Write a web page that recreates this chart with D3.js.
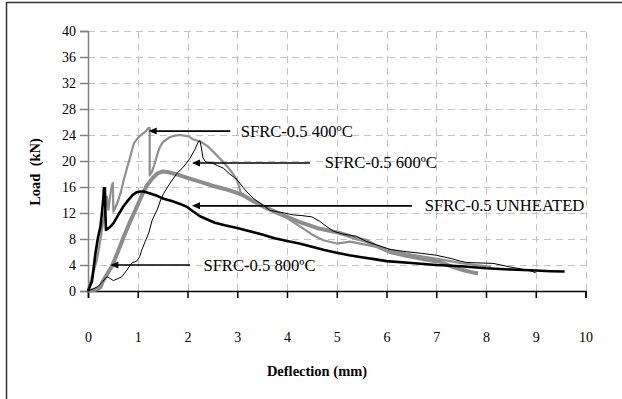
<!DOCTYPE html>
<html>
<head>
<meta charset="utf-8">
<script src="https://cdn.jsdelivr.net/npm/d3@7"></script>
<style>
  html, body { margin: 0; padding: 0; background: #fff; }
</style>
</head>
<body>
<svg id="chart" width="622" height="399"></svg>
<script>
// tick values
const xTicks = [0, 1, 2, 3, 4, 5, 6, 7, 8, 9, 10]
const yTicks = [0, 4, 8, 12, 16, 20, 24, 28, 32, 36, 40]

// [deflection (mm), load (kN)]
const unheated = [
  [0, 0], [0.08, 1.5], [0.15, 5.8], [0.2, 8.2], [0.25, 9.9], [0.28, 12], [0.31, 14.5], [0.32, 15.8],
  [0.34, 15.8], [0.35, 12], [0.36, 9.4], [0.4, 9.6], [0.45, 9.9], [0.51, 10.4], [0.6, 11.6], [0.71, 13.0],
  [0.8, 13.9], [0.9, 14.8], [0.98, 15.2], [1.05, 15.3], [1.12, 15.3], [1.25, 15.0], [1.4, 14.6],
  [1.52, 14.2], [1.7, 13.8], [1.85, 13.4], [2.0, 12.9], [2.1, 12.3], [2.25, 11.5], [2.4, 11.0],
  [2.55, 10.5], [2.75, 10.1], [3.0, 9.7], [3.25, 9.2], [3.5, 8.7], [3.75, 8.1], [4.0, 7.7], [4.25, 7.3],
  [4.5, 6.8], [4.75, 6.3], [5.0, 5.9], [5.25, 5.5], [5.5, 5.2], [5.75, 4.9], [6.0, 4.6], [6.5, 4.3],
  [7.0, 4.0], [7.5, 3.8], [8.0, 3.5], [8.5, 3.3], [9.0, 3.15], [9.3, 3.05], [9.58, 3.0]
]
const t400 = [
  [0, 0], [0.05, 1.5], [0.12, 3.2], [0.18, 4.8], [0.23, 7], [0.28, 9.4], [0.32, 11.3], [0.35, 13],
  [0.38, 14.5], [0.41, 12.5], [0.45, 14.8], [0.48, 16.3], [0.5, 16.6], [0.51, 12.2], [0.56, 13],
  [0.61, 14], [0.66, 15.2], [0.71, 16.8], [0.78, 18.8], [0.85, 20.7], [0.92, 22.7], [1.02, 23.7],
  [1.1, 24.2], [1.15, 24.5], [1.22, 25.1], [1.24, 25.1], [1.24, 17.8], [1.28, 18.3], [1.32, 19.1],
  [1.37, 20.4], [1.42, 21.7], [1.47, 22.5], [1.52, 23.0], [1.65, 23.7], [1.75, 23.9], [1.85, 24.0],
  [2.02, 23.8], [2.12, 23.3], [2.26, 23.0], [2.4, 22.3], [2.52, 21.4], [2.7, 20], [2.86, 18.6],
  [2.98, 17.3], [3.04, 16.0], [3.07, 15.0], [3.3, 14.0], [3.6, 12.9], [3.9, 11.8], [4.06, 10.9],
  [4.33, 9.6], [4.5, 8.7], [4.73, 7.8], [5.0, 7.3], [5.27, 7.6], [5.6, 7.1], [5.94, 6.6], [6.2, 6.1],
  [6.5, 5.6], [6.8, 5.2], [7.14, 4.8], [7.5, 4.3], [7.8, 4.0], [8.1, 3.7]
]
const t600 = [
  [0, 0], [0.1, 0.3], [0.2, 0.7], [0.3, 1.5], [0.38, 2.2], [0.45, 1.9], [0.51, 1.6], [0.6, 1.9],
  [0.68, 2.2], [0.78, 3.2], [0.88, 4.3], [0.98, 4.6], [1.04, 5.3], [1.08, 6.3], [1.15, 7.6], [1.22, 8.9],
  [1.29, 10.9], [1.39, 12.5], [1.46, 14], [1.52, 15], [1.65, 16.6], [1.79, 18.1], [1.92, 19.1],
  [2.05, 20.4], [2.15, 21.8], [2.22, 23.0], [2.25, 23.1], [2.28, 22], [2.31, 20.5], [2.36, 19.9],
  [2.52, 19.6], [2.6, 19.3], [2.72, 18.9], [2.85, 18.0], [3.0, 17.1], [3.12, 15.9], [3.2, 15.2],
  [3.33, 14.2], [3.5, 13.3], [3.66, 12.4], [3.8, 12.2], [3.95, 12.0], [4.13, 11.7], [4.3, 11.6],
  [4.5, 11.4], [4.66, 10.7], [4.8, 9.9], [4.93, 9.2], [5.1, 8.8], [5.4, 8.4], [5.6, 7.6], [5.8, 7.1],
  [6.07, 6.4], [6.4, 6.05], [6.7, 5.8], [7.0, 5.5], [7.3, 5.0], [7.48, 4.6], [7.6, 4.4], [7.74, 4.35],
  [8.14, 4.25], [8.3, 4.0], [8.48, 3.7], [8.7, 3.4], [8.9, 3.1], [9.0, 2.8]
]
const t800 = [
  [0, 0], [0.1, 0.1], [0.2, 0.3], [0.25, 0.6], [0.3, 1.5], [0.4, 2.8], [0.48, 3.8], [0.6, 6.0],
  [0.71, 8.2], [0.83, 10.4], [0.95, 12.4], [1.07, 14.5], [1.18, 16.2], [1.3, 17.4], [1.4, 18.1],
  [1.5, 18.4], [1.6, 18.3], [1.8, 17.9], [2.0, 17.4], [2.26, 16.8], [2.5, 16.2], [2.75, 15.7],
  [2.95, 15.2], [3.1, 14.8], [3.3, 13.9], [3.6, 12.7], [3.9, 11.7], [4.26, 10.6], [4.6, 9.7],
  [5.07, 8.9], [5.4, 8.1], [5.6, 7.7], [5.77, 7.0], [6.07, 6.0], [6.4, 5.4], [6.74, 4.9], [7.07, 4.5],
  [7.3, 3.8], [7.5, 3.3], [7.7, 2.9], [7.84, 2.7]
]

// labels: text, arrow tip [x, y], arrow tail x, text start x (all in data units)
const labels = ['SFRC-0.5 400ºC', 'SFRC-0.5 600ºC', 'SFRC-0.5 UNHEATED', 'SFRC-0.5 800ºC']
const tips = [[1.22, 24.6], [2.09, 19.7], [2.09, 13.1], [0.45, 4.0]]
const tails = [2.86, 4.46, 6.51, 2.05]
const textStarts = [3.07, 4.76, 6.77, 2.32]

const W = 622
const H = 399
const FONT = 'Tinos, "Liberation Serif", "Times New Roman", serif'
const svg = d3.select('#chart')

svg.append('rect').attr('width', W).attr('height', H).attr('fill', '#fff')
// outer frame (only top and left edges are inside the picture)
svg.append('rect')
  .attr('x', 6.5).attr('y', 2.5).attr('width', 800).attr('height', 600)
  .attr('fill', 'none').attr('stroke', '#333').attr('stroke-width', 1.5)

const x = d3.scaleLinear().domain([0, 10]).range([88, 585.5])
const y = d3.scaleLinear().domain([0, 40]).range([291, 31])

// grid
const grid = svg.append('g').attr('stroke', '#c4c4c4').attr('stroke-width', 1).attr('stroke-dasharray', '7,5')
grid.selectAll('.hg').data(yTicks.slice(1)).join('line')
  .attr('x1', x(0)).attr('x2', x(10))
  .attr('y1', d => Math.round(y(d)) + 0.5).attr('y2', d => Math.round(y(d)) + 0.5)
grid.selectAll('.vg').data(xTicks.slice(1)).join('line')
  .attr('y1', y(0)).attr('y2', y(40))
  .attr('x1', d => Math.round(x(d)) + 0.5).attr('x2', d => Math.round(x(d)) + 0.5)

// y axis
const yg = svg.append('g').attr('transform', `translate(${x(0)},0)`)
  .call(d3.axisLeft(y).tickValues(yTicks).tickSize(8).tickPadding(4))
yg.attr('font-family', null).attr('font-size', null)
yg.selectAll('line, path').attr('stroke', '#808080').attr('stroke-width', 1.5)
yg.selectAll('text').style('font-family', FONT).style('font-size', '14px').attr('fill', '#000')

// x axis
const xg = svg.append('g').attr('transform', `translate(0,${y(0)})`)
  .call(d3.axisBottom(x).tickValues(xTicks).tickSize(7).tickSizeOuter(7).tickPadding(34))
xg.attr('font-family', null).attr('font-size', null)
xg.selectAll('line, path').attr('stroke', '#000').attr('stroke-width', 1.5)
xg.selectAll('text').style('font-family', FONT).style('font-size', '14px').attr('fill', '#000')

// axis titles
svg.append('text')
  .attr('x', 317).attr('y', 376)
  .style('font-family', FONT).style('font-size', '14.5px').style('font-weight', 'bold')
  .attr('text-anchor', 'middle')
  .text('Deflection (mm)')
svg.append('text')
  .attr('transform', 'translate(40,172) rotate(-90)')
  .style('font-family', FONT).style('font-size', '14.5px').style('font-weight', 'bold')
  .style('white-space', 'pre')
  .attr('text-anchor', 'middle')
  .text('Load  (kN)')

// curves
const line = d3.line().x(d => x(d[0])).y(d => y(d[1])).curve(d3.curveLinear)
const curves = [
  { data: t800, color: '#8c8c8c', width: 4 },
  { data: t400, color: '#8f8f8f', width: 2.2 },
  { data: unheated, color: '#000', width: 2.6 },
  { data: t600, color: '#000', width: 1 }
]
svg.append('g').selectAll('path').data(curves).join('path')
  .attr('d', d => line(d.data))
  .attr('fill', 'none')
  .attr('stroke', d => d.color)
  .attr('stroke-width', d => d.width)
  .attr('stroke-linejoin', 'round')

// annotations
const ann = svg.append('g')
labels.forEach((label, i) => {
  const tx = x(tips[i][0])
  const ty = y(tips[i][1])
  ann.append('line')
    .attr('x1', tx + 6).attr('x2', x(tails[i]))
    .attr('y1', ty).attr('y2', ty)
    .attr('stroke', '#000').attr('stroke-width', 1.6)
  ann.append('path')
    .attr('d', `M${tx},${ty} L${tx + 8},${ty - 3.5} L${tx + 8},${ty + 3.5} Z`)
    .attr('fill', '#000')
  ann.append('text')
    .attr('x', x(textStarts[i])).attr('y', ty + 5.5)
    .style('font-family', FONT).style('font-size', '16.6px')
    .text(label)
})
</script>
</body>
</html>
